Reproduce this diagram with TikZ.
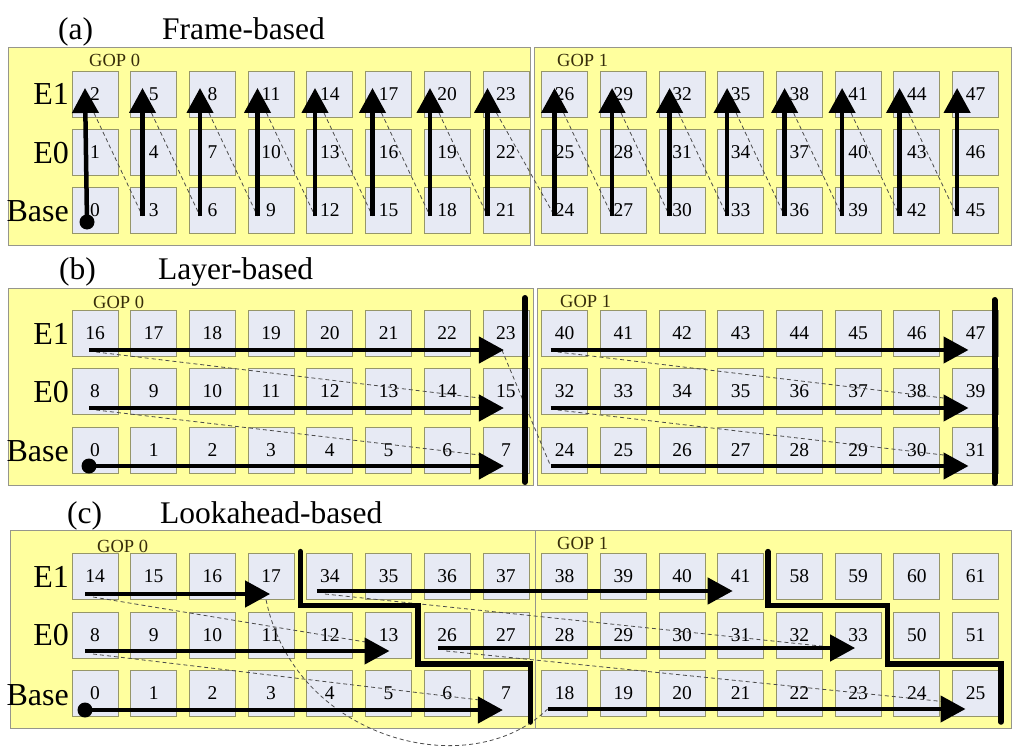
\documentclass[tikz,border=0pt]{standalone}
\usepackage{fontspec}
\setmainfont{Liberation Serif}
\usetikzlibrary{arrows.meta,calc}
\definecolor{panelY}{RGB}{255,255,158}
\definecolor{panelB}{RGB}{150,150,140}
\definecolor{frameF}{RGB}{231,234,244}
\definecolor{frameD}{RGB}{150,150,105}
\definecolor{dashC}{RGB}{75,75,75}
\definecolor{gopC}{RGB}{55,45,10}
\begin{document}
\begin{tikzpicture}[x=1pt,y=-1pt,
  gopbox/.style={fill=panelY,draw=panelB,line width=0.9pt},
  frm/.style={draw=frameD,fill=frameF,line width=0.8pt,minimum width=46pt,minimum height=46pt,inner sep=0pt,font=\fontsize{19.5}{19.5}\selectfont},
  rowlab/.style={anchor=base east,font=\fontsize{32}{32}\selectfont,inner sep=0pt},
  ttl/.style={anchor=base west,font=\fontsize{31.5}{31.5}\selectfont,inner sep=0pt},
  goplab/.style={anchor=base west,font=\fontsize{18.5}{18.5}\selectfont,text=gopC,inner sep=0pt},
  bigarrow/.style={line width=4.5pt,-{Triangle[width=26pt,length=25pt]}},
  dep/.style={dash pattern=on 4pt off 3pt,draw=dashC,line width=0.8pt},
  vbar/.style={line width=6pt,line cap=round},
  stair/.style={line width=5.5pt,line cap=round,line join=miter},
  dotn/.style={circle,fill=black,inner sep=0pt,minimum size=15pt}
]
\useasboundingbox (0,0) rectangle (1024,749);
\fill[white] (0,0) rectangle (1024,749);

% ================= (a) Frame-based =================
\node[ttl] (ta1) at (58,40) {(a)};
\node[ttl] (ta2) at (162,40) {Frame-based};
\draw[gopbox] (8,47) rectangle (530,245);
\draw[gopbox] (534,47) rectangle (1011,245);
\node[goplab] (ga0) at (89,67) {GOP 0};
\node[goplab] (ga1) at (557,67) {GOP 1};
\node[rowlab] (la2) at (69,105) {E1};
\node[rowlab] (la1) at (69,163) {E0};
\node[rowlab] (la0) at (69,221) {Base};
\foreach \c in {0,...,15}{
  \foreach \r/\yy in {0/210,1/152,2/94}{
    \pgfmathtruncatemacro{\n}{3*\c+\r}
    \node[frm] (a-\r-\c) at ({95+58.7*\c},\yy) {\n};
  }
}
\foreach \c in {0,...,15}{
  \pgfmathsetmacro{\off}{-10-1.2*mod(\c,8)}
  \coordinate (a-s-\c) at ($(a-0-\c.center)+(\off,6)$);
  \coordinate (a-t-\c) at ($(a-2-\c.center)+(\off,-6)$);
}
\foreach \c in {0,...,14}{
  \pgfmathtruncatemacro{\d}{\c+1}
  \draw[dep] ($(a-t-\c)+(9,25)$) -- (a-s-\d);
}
\node[dotn] (a-dot) at ($(a-0-0.center)+(-8,12)$) {};
\draw[bigarrow] (a-dot.center) -- (a-t-0);
\foreach \c in {1,...,15}{
  \draw[bigarrow] (a-s-\c) -- (a-t-\c);
}

% ================= (b) Layer-based =================
\node[ttl] (tb1) at (59,279) {(b)};
\node[ttl] (tb2) at (158,279) {Layer-based};
\draw[gopbox] (8,288) rectangle (533,485);
\draw[gopbox] (537,288) rectangle (1012,485);
\node[goplab] (gb0) at (93,308) {GOP 0};
\node[goplab] (gb1) at (560,307) {GOP 1};
\node[rowlab] (lb2) at (69,344) {E1};
\node[rowlab] (lb1) at (69,402) {E0};
\node[rowlab] (lb0) at (69,461) {Base};
\foreach \c in {0,...,15}{
  \foreach \r/\yy in {0/450,1/391,2/333}{
    \pgfmathtruncatemacro{\n}{24*int(\c/8)+8*\r+mod(\c,8)}
    \node[frm] (b-\r-\c) at ({95+58.7*\c},\yy) {\n};
  }
}
\foreach \r/\dy in {0/16,1/17,2/17}{
  \coordinate (b-s-\r-0) at ($(b-\r-0.center)+(-6,\dy)$);
  \coordinate (b-t-\r-0) at ($(b-\r-7.center)+(-2,\dy)$);
  \coordinate (b-s-\r-1) at ($(b-\r-8.center)+(-14,\dy)$);
  \coordinate (b-t-\r-1) at ($(b-\r-15.center)+(-7,\dy)$);
}
\draw[dep] ($(b-s-2-0)+(7,2)$) -- ($(b-1-7.center)+(-26,7)$);
\draw[dep] ($(b-s-1-0)+(7,2)$) -- ($(b-0-7.center)+(-26,5)$);
\draw[dep] ($(b-t-2-0)+(-2,0)$) -- (b-s-0-1);
\draw[dep] ($(b-s-2-1)+(7,2)$) -- ($(b-1-15.center)+(-32,7)$);
\draw[dep] ($(b-s-1-1)+(7,2)$) -- ($(b-0-15.center)+(-32,5)$);
\node[dotn] (b-dot) at (b-s-0-0) {};
\draw[bigarrow] (b-dot.center) -- (b-t-0-0);
\foreach \r in {1,2}{
  \draw[bigarrow] (b-s-\r-0) -- (b-t-\r-0);
}
\foreach \r in {0,1,2}{
  \draw[bigarrow] (b-s-\r-1) -- (b-t-\r-1);
}
\coordinate (bb0t) at ($(b-2-7.center)+(19,-35)$);
\coordinate (bb0b) at ($(b-0-7.center)+(19,32)$);
\coordinate (bb1t) at ($(b-2-15.center)+(19,-33)$);
\coordinate (bb1b) at ($(b-0-15.center)+(19,33)$);
\draw[vbar] (bb0t) -- (bb0b);
\draw[vbar] (bb1t) -- (bb1b);

% ================= (c) Lookahead-based =================
\node[ttl] (tc1) at (67,523) {(c)};
\node[ttl] (tc2) at (160,523) {Lookahead-based};
\draw[gopbox] (10,530) rectangle (535,728);
\draw[gopbox] (535,530) rectangle (1011,728);
\node[goplab] (gc0) at (97,552) {GOP 0};
\node[goplab] (gc1) at (557,549) {GOP 1};
\node[rowlab] (lc2) at (69,587) {E1};
\node[rowlab] (lc1) at (69,645) {E0};
\node[rowlab] (lc0) at (69,705) {Base};
\foreach \c/\n in {0/14,1/15,2/16,3/17,4/34,5/35,6/36,7/37,8/38,9/39,10/40,11/41,12/58,13/59,14/60,15/61}{
  \node[frm] (c-2-\c) at ({95+58.7*\c},576) {\n};
}
\foreach \c/\n in {0/8,1/9,2/10,3/11,4/12,5/13,6/26,7/27,8/28,9/29,10/30,11/31,12/32,13/33,14/50,15/51}{
  \node[frm] (c-1-\c) at ({95+58.7*\c},635) {\n};
}
\foreach \c/\n in {0/0,1/1,2/2,3/3,4/4,5/5,6/6,7/7,8/18,9/19,10/20,11/21,12/22,13/23,14/24,15/25}{
  \node[frm] (c-0-\c) at ({95+58.7*\c},693) {\n};
}
% arrow end points
\coordinate (c-s-2-0) at ($(c-2-0.center)+(-10,18)$);
\coordinate (c-t-2-0) at ($(c-2-3.center)+(-1,18)$);
\coordinate (c-s-1-0) at ($(c-1-0.center)+(-10,16)$);
\coordinate (c-t-1-0) at ($(c-1-5.center)+(1,16)$);
\coordinate (c-s-0-0) at ($(c-0-0.center)+(-10,17)$);
\coordinate (c-t-0-0) at ($(c-0-7.center)+(-3,17)$);
\coordinate (c-s-2-1) at ($(c-2-4.center)+(-13,15)$);
\coordinate (c-t-2-1) at ($(c-2-11.center)+(-8,15)$);
\coordinate (c-s-1-1) at ($(c-1-6.center)+(-9,13)$);
\coordinate (c-t-1-1) at ($(c-1-13.center)+(-3,13)$);
\coordinate (c-s-0-1) at ($(c-0-8.center)+(-17,16)$);
\coordinate (c-t-0-1) at ($(c-0-15.center)+(-10,16)$);
% dependencies
\draw[dep] ($(c-s-2-0)+(8,3)$) -- ($(c-1-5.center)+(-23,7)$);
\draw[dep] ($(c-s-1-0)+(8,3)$) -- ($(c-0-7.center)+(-26,7)$);
\draw[dep] ($(c-t-2-0)+(-4,6)$) .. controls ($(c-t-2-0)+(25,146)$) and ($(c-t-2-0)+(200,191)$) .. (c-s-0-1);
\draw[dep] ($(c-s-2-1)+(8,3)$) -- ($(c-1-13.center)+(-28,12)$);
\draw[dep] ($(c-s-1-1)+(8,3)$) -- ($(c-0-15.center)+(-28,9)$);
% thick arrows
\node[dotn] (c-dot) at (c-s-0-0) {};
\draw[bigarrow] (c-dot.center) -- (c-t-0-0);
\draw[bigarrow] (c-s-1-0) -- (c-t-1-0);
\draw[bigarrow] (c-s-2-0) -- (c-t-2-0);
\foreach \r in {0,1,2}{
  \draw[bigarrow] (c-s-\r-1) -- (c-t-\r-1);
}
% staircase boundaries
\coordinate (s1a) at ($(c-2-3.north east)!.5!(c-2-4.north west)+(0,-1)$);
\coordinate (s1b) at ($(c-2-5.south east)!.5!(c-1-6.north west)$);
\coordinate (s1c) at ($(c-1-7.south east)!.5!(c-0-8.north west)+(-5,0)$);
\coordinate (s1d) at ($(s1c)+(0,58)$);
\draw[stair] (s1a) |- (s1b) |- (s1c) -- (s1d);
\coordinate (s2a) at ($(c-2-11.north east)!.5!(c-2-12.north west)+(-2,-1)$);
\coordinate (s2b) at ($(c-2-13.south east)!.5!(c-1-14.north west)$);
\coordinate (s2c) at ($(c-1-15.south east)!.5!(c-0-15.north east)+(2,0)$);
\coordinate (s2d) at ($(s2c)+(0,58)$);
\draw[stair] (s2a) |- (s2b) |- (s2c) -- (s2d);
\end{tikzpicture}
\end{document}
